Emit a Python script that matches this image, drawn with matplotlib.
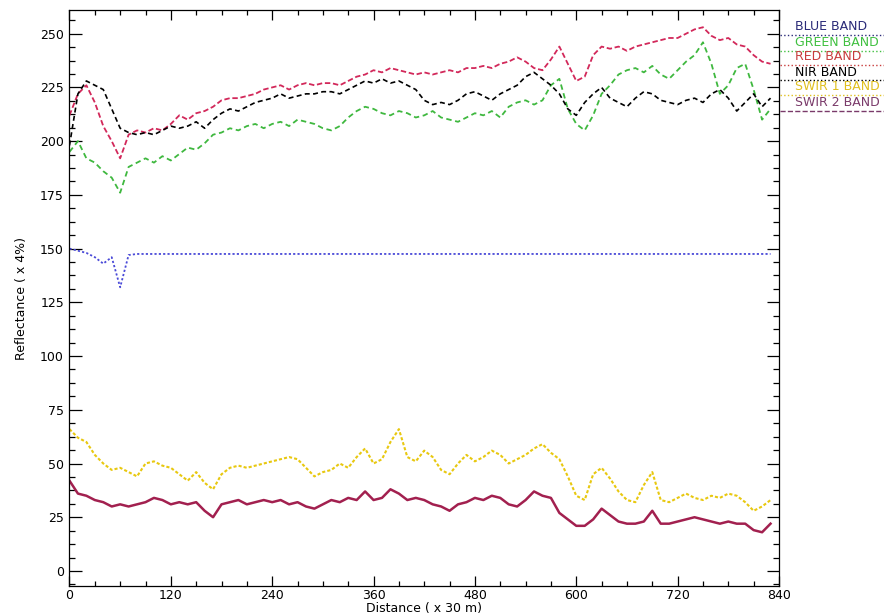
import matplotlib
matplotlib.use('Agg')
import matplotlib.pyplot as plt
from matplotlib.ticker import MultipleLocator

# distance along the profile, one sample every 10 steps
distance = list(range(0, 840, 10))

blue_band = [150, 149, 148, 146, 143, 146, 132, 147, 147.5, 147.5,
             147.5, 147.5, 147.5, 147.5, 147.5, 147.5, 147.5, 147.5, 147.5, 147.5,
             147.5, 147.5, 147.5, 147.5, 147.5, 147.5, 147.5, 147.5, 147.5, 147.5,
             147.5, 147.5, 147.5, 147.5, 147.5, 147.5, 147.5, 147.5, 147.5, 147.5,
             147.5, 147.5, 147.5, 147.5, 147.5, 147.5, 147.5, 147.5, 147.5, 147.5,
             147.5, 147.5, 147.5, 147.5, 147.5, 147.5, 147.5, 147.5, 147.5, 147.5,
             147.5, 147.5, 147.5, 147.5, 147.5, 147.5, 147.5, 147.5, 147.5, 147.5,
             147.5, 147.5, 147.5, 147.5, 147.5, 147.5, 147.5, 147.5, 147.5, 147.5,
             147.5, 147.5, 147.5, 147.5]

green_band = [195, 200, 192, 190, 186, 183, 176, 188, 190, 192,
              190, 193, 191, 194, 197, 196, 199, 203, 204, 206,
              205, 207, 208, 206, 208, 209, 207, 210, 209, 208,
              206, 205, 207, 211, 214, 216, 215, 213, 212, 214,
              213, 211, 212, 214, 211, 210, 209, 211, 213, 212,
              214, 211, 216, 218, 219, 217, 219, 226, 229, 215,
              208, 205, 212, 222, 226, 231, 233, 234, 232, 235,
              231, 229, 233, 237, 240, 246, 236, 222, 226, 234,
              236, 224, 210, 215]

red_band = [212, 222, 226, 218, 207, 200, 192, 203, 205, 204,
            206, 205, 208, 212, 210, 213, 214, 216, 219, 220,
            220, 221, 222, 224, 225, 226, 224, 226, 227, 226,
            227, 227, 226, 228, 230, 231, 233, 232, 234, 233,
            232, 231, 232, 231, 232, 233, 232, 234, 234, 235,
            234, 236, 237, 239, 237, 234, 233, 238, 244, 236,
            228, 230, 240, 244, 243, 244, 242, 244, 245, 246,
            247, 248, 248, 250, 252, 253, 249, 247, 248, 245,
            244, 240, 237, 236]

nir_band = [198, 222, 228, 226, 224, 215, 206, 204, 203, 204,
            203, 205, 207, 206, 207, 209, 206, 210, 213, 215,
            214, 216, 218, 219, 220, 222, 220, 221, 222, 222,
            223, 223, 222, 224, 226, 228, 227, 229, 227, 228,
            226, 224, 219, 217, 218, 217, 219, 222, 223, 221,
            219, 222, 224, 226, 230, 232, 229, 226, 222, 215,
            212, 218, 222, 225, 220, 218, 216, 220, 223, 222,
            219, 218, 217, 219, 220, 218, 222, 224, 220, 214,
            218, 222, 216, 220]

swir1_band = [66, 62, 60, 54, 50, 47, 48, 46, 44, 50,
              51, 49, 48, 45, 42, 46, 41, 38, 45, 48,
              49, 48, 49, 50, 51, 52, 53, 52, 48, 44,
              46, 47, 50, 48, 53, 57, 50, 52, 60, 66,
              53, 51, 56, 53, 47, 45, 50, 54, 51, 53,
              56, 54, 50, 52, 54, 57, 59, 55, 52, 44,
              35, 33, 45, 48, 43, 37, 33, 32, 40, 46,
              33, 32, 34, 36, 34, 33, 35, 34, 36, 35,
              32, 28, 30, 33]

swir2_band = [42, 36, 35, 33, 32, 30, 31, 30, 31, 32,
              34, 33, 31, 32, 31, 32, 28, 25, 31, 32,
              33, 31, 32, 33, 32, 33, 31, 32, 30, 29,
              31, 33, 32, 34, 33, 37, 33, 34, 38, 36,
              33, 34, 33, 31, 30, 28, 31, 32, 34, 33,
              35, 34, 31, 30, 33, 37, 35, 34, 27, 24,
              21, 21, 24, 29, 26, 23, 22, 22, 23, 28,
              22, 22, 23, 24, 25, 24, 23, 22, 23, 22,
              22, 19, 18, 22]

band_names = ['BLUE BAND', 'GREEN BAND', 'RED BAND', 'NIR BAND',
              'SWIR 1 BAND', 'SWIR 2 BAND']

fig = plt.figure(figsize=(8.84, 6.16), dpi=100)
ax = fig.add_axes([0.0786, 0.0487, 0.8026, 0.935])

ax.plot(distance, blue_band, color='#4a4ad8', lw=1.3, ls=(0, (1.2, 1.2)))
ax.plot(distance, green_band, color='#3fb83f', lw=1.3, ls=(0, (3, 2)))
ax.plot(distance, red_band, color='#d2285a', lw=1.3, ls=(0, (3, 1.5)))
ax.plot(distance, nir_band, color='black', lw=1.2, ls=(0, (3, 2)))
ax.plot(distance, swir1_band, color='#e8c810', lw=1.5, ls=(0, (1.5, 1)))
ax.plot(distance, swir2_band, color='#a2204f', lw=1.8)

ax.set_xlim(0, 840)
ax.set_ylim(-7, 261)
ax.xaxis.set_major_locator(MultipleLocator(120))
ax.xaxis.set_minor_locator(MultipleLocator(30))
ax.yaxis.set_major_locator(MultipleLocator(25))
ax.yaxis.set_minor_locator(MultipleLocator(6.25))
ax.tick_params(which='both', direction='in', top=True, right=True,
               labelsize=9, width=0.9)
ax.tick_params(axis='y', which='major', length=9, pad=4)
ax.tick_params(axis='y', which='minor', length=4.5)
ax.tick_params(axis='x', which='major', length=7, pad=2)
ax.tick_params(axis='x', which='minor', length=3.5)
for sp in ax.spines.values():
    sp.set_linewidth(0.9)

ax.set_xlabel('Distance ( x 30 m)', fontsize=9, labelpad=0)
ax.set_ylabel('Reflectance ( x 4%)', fontsize=9, labelpad=9)

# legend: coloured names with a dotted sample line underneath
text_colors = ['#2a2a78', '#40c040', '#c83c3c', 'black', '#e0c020', '#7a3a6a']
line_colors = ['#2a2a78', '#40c040', '#c83c3c', 'black', '#e0c020', '#7a3a6a']
line_styles = [':', ':', ':', ':', ':', '--']
text_y = [27, 43, 57, 72, 87, 103]
for name, tc, lc, ls, ty in zip(band_names, text_colors, line_colors,
                                line_styles, text_y):
    fy = 1 - ty / 616
    fig.text(795 / 884, fy, name, color=tc, fontsize=9, va='center', ha='left')
    ly = 1 - (ty + 7.5) / 616
    fig.add_artist(plt.Line2D([780 / 884, 1.0], [ly, ly], color=lc, lw=1,
                              ls=ls, transform=fig.transFigure))

fig.savefig('out.png', dpi=100)
